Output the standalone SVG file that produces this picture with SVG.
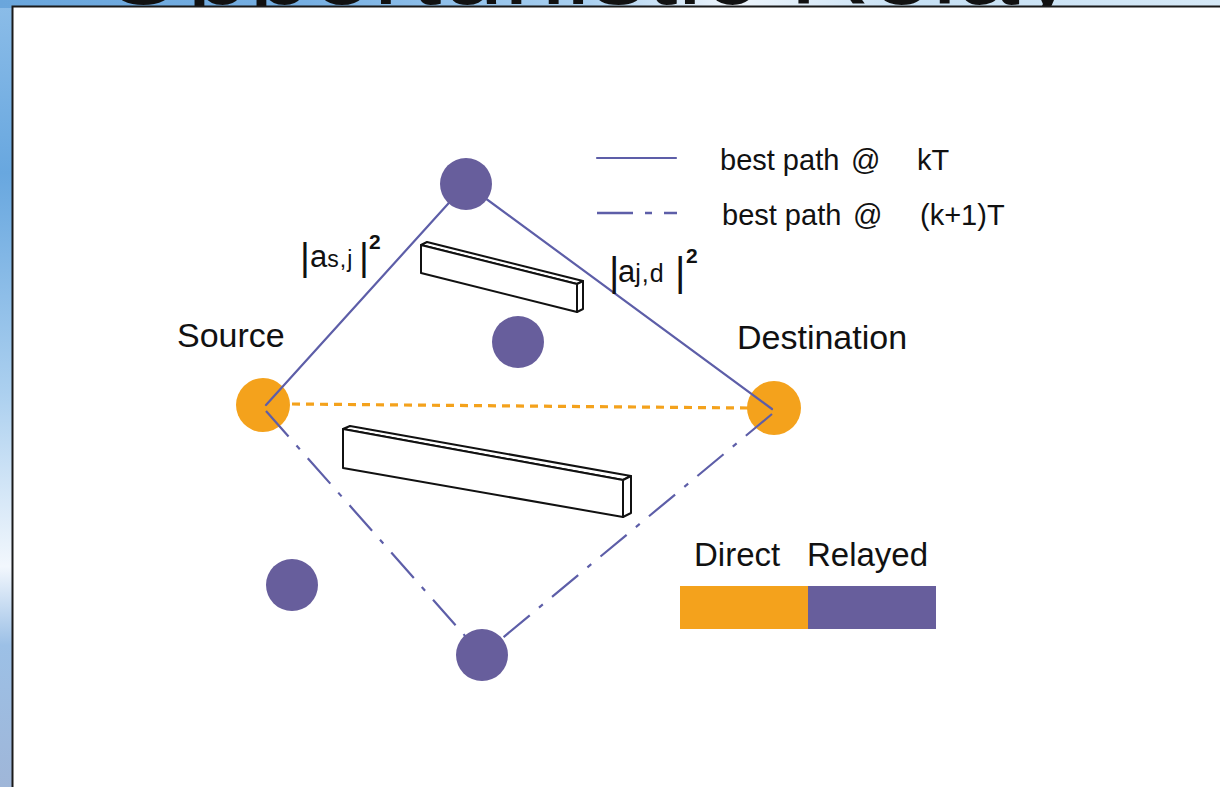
<svg xmlns="http://www.w3.org/2000/svg" width="1220" height="787" viewBox="0 0 1220 787">
  <defs>
    <linearGradient id="skyTop" x1="0" y1="0" x2="1" y2="0">
      <stop offset="0" stop-color="#6aa6dc"/>
      <stop offset="0.25" stop-color="#76afe2"/>
      <stop offset="0.48" stop-color="#a9d0f0"/>
      <stop offset="0.6" stop-color="#eef5fc"/>
      <stop offset="0.75" stop-color="#c6e0f4"/>
      <stop offset="1" stop-color="#d6e9f7"/>
    </linearGradient>
    <linearGradient id="skyLeft" x1="0" y1="0" x2="0" y2="1">
      <stop offset="0" stop-color="#8cbde8"/>
      <stop offset="0.22" stop-color="#68a7df"/>
      <stop offset="0.5" stop-color="#acd0ef"/>
      <stop offset="0.72" stop-color="#f2f7fd"/>
      <stop offset="0.82" stop-color="#9cc0e6"/>
      <stop offset="1" stop-color="#9fb6d8"/>
    </linearGradient>
    <style>
      .lbl { font-family: "Liberation Sans", Arial, sans-serif; fill: #111; }
      .relay { fill: #675e9c; }
      .endpoint { fill: #f4a21c; }
      .best { stroke: #5d5ea8; stroke-width: 2.2; fill: none; stroke-linecap: round; }
      .next { stroke: #5d5ea8; stroke-width: 2.2; fill: none; stroke-dasharray: 34 12 5 12; }
      .direct { stroke: #f4a21c; stroke-width: 3.2; fill: none; stroke-dasharray: 8 6; }
      .wall { fill: #fff; stroke: #111; stroke-width: 2; stroke-linejoin: round; }
    </style>
  </defs>

  <!-- slide background -->
  <rect x="0" y="0" width="1220" height="787" fill="url(#skyLeft)"/>
  <rect x="0" y="0" width="1220" height="8" fill="url(#skyTop)"/>
  <text class="lbl" x="100" y="4" font-size="100" textLength="975" lengthAdjust="spacingAndGlyphs" fill="#111">Opportunistic Relay</text>

  <!-- white content panel -->
  <rect x="12.5" y="6.5" width="1212" height="785" fill="#fff" stroke="#1a1a1a" stroke-width="2"/>

  <!-- obstacles -->
  <g id="wall-upper">
    <polygon class="wall" points="421,245 427,242 583,281 577,284"/>
    <polygon class="wall" points="577,284 583,281 583,309 577,312"/>
    <polygon class="wall" points="421,245 577,284 577,312 421,273"/>
  </g>
  <g id="wall-lower">
    <polygon class="wall" points="343,429 350,426 631,476 623,480"/>
    <polygon class="wall" points="623,480 631,476 631,513 623,517"/>
    <polygon class="wall" points="343,429 623,480 623,517 343,468"/>
  </g>

  <!-- source and destination -->
  <g id="source">
    <circle class="endpoint" cx="263" cy="405" r="27"/>
    <text class="lbl" x="177" y="347" font-size="34">Source</text>
  </g>
  <g id="destination">
    <circle class="endpoint" cx="774" cy="408" r="27"/>
    <text class="lbl" x="737" y="349" font-size="34">Destination</text>
  </g>

  <!-- links -->
  <g id="connectors">
    <line class="direct" x1="292" y1="404" x2="748" y2="408"/>
    <line class="best" x1="266" y1="405" x2="466" y2="184"/>
    <line class="best" x1="466" y1="184" x2="772" y2="409"/>
    <line class="next" x1="266" y1="411" x2="482" y2="655"/>
    <line class="next" x1="772" y1="414" x2="482" y2="655"/>
  </g>

  <!-- candidate relays -->
  <g id="relay-top">
    <circle class="relay" cx="466" cy="184" r="26"/>
  </g>
  <g id="relay-middle">
    <circle class="relay" cx="518" cy="342" r="26"/>
  </g>
  <g id="relay-left">
    <circle class="relay" cx="292" cy="585" r="26"/>
  </g>
  <g id="relay-bottom">
    <circle class="relay" cx="482" cy="655" r="26"/>
  </g>

  <!-- channel gain labels -->
  <g id="gain-sj">
    <text class="lbl" y="267" font-size="31"><tspan x="300" font-size="38" dy="3">|</tspan><tspan x="310" dy="-3">a</tspan><tspan font-size="23" letter-spacing="1">s,j</tspan><tspan x="359" font-size="38" dy="3">|</tspan></text>
    <text class="lbl" x="369" y="249" font-size="21" font-weight="bold">2</text>
  </g>
  <g id="gain-jd">
    <text class="lbl" y="282" font-size="31"><tspan x="609" font-size="40" dy="4">|</tspan><tspan x="618" dy="-4">a</tspan><tspan font-size="25" letter-spacing="1">j,d</tspan><tspan x="675" font-size="40" dy="4">|</tspan></text>
    <text class="lbl" x="686" y="263" font-size="21" font-weight="bold">2</text>
  </g>

  <!-- path legend -->
  <g id="legend-paths">
    <line class="best" x1="597" y1="158" x2="676" y2="158"/>
    <line stroke="#5d5ea8" stroke-width="2.6" x1="597" y1="213" x2="677" y2="213" stroke-dasharray="36 12 7 12"/>
    <text class="lbl" y="170" font-size="29"><tspan x="720">best path</tspan><tspan x="851">@</tspan><tspan x="917">kT</tspan></text>
    <text class="lbl" y="225" font-size="29"><tspan x="722">best path</tspan><tspan x="853">@</tspan><tspan x="920">(k+1)T</tspan></text>
  </g>

  <!-- link type legend -->
  <g id="legend-links">
    <text class="lbl" y="566" font-size="33"><tspan x="694">Direct</tspan><tspan x="807">Relayed</tspan></text>
    <rect x="680" y="586" width="128" height="43" class="endpoint"/>
    <rect x="808" y="586" width="128" height="43" class="relay"/>
  </g>
</svg>
